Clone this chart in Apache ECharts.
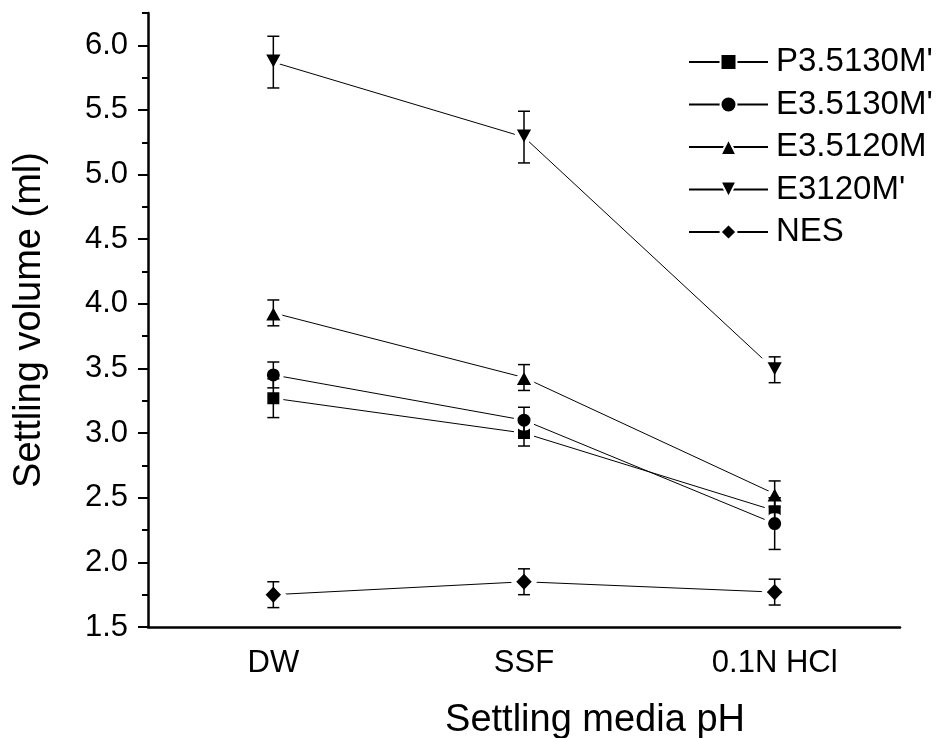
<!DOCTYPE html>
<html><head><meta charset="utf-8">
<script src="https://cdn.jsdelivr.net/npm/echarts@6/dist/echarts.min.js"></script>
<style>html,body{margin:0;padding:0;background:#fff}#c{width:950px;height:738px}</style>
</head><body><div id="c"></div>
<script>
const categories = ['DW', 'SSF', '0.1N HCl'];
const seriesNames = ["P3.5130M'", "E3.5130M'", "E3.5120M", "E3120M'", "NES"];
const p35130mValues = [3.27, 3.00, 2.40];
const p35130mErrors = [0.15, 0.10, 0.10];
const e35130mValues = [3.45, 3.10, 2.30];
const e35130mErrors = [0.10, 0.10, 0.20];
const e35120mValues = [3.93, 3.43, 2.53];
const e35120mErrors = [0.10, 0.10, 0.10];
const e3120mValues = [5.87, 5.29, 3.49];
const e3120mErrors = [0.20, 0.20, 0.10];
const nesValues = [1.75, 1.85, 1.77];
const nesErrors = [0.10, 0.10, 0.10];
const yTicks = [1.5, 2.0, 2.5, 3.0, 3.5, 4.0, 4.5, 5.0, 5.5, 6.0];
const yMinorTicks = [1.75, 2.25, 2.75, 3.25, 3.75, 4.25, 4.75, 5.25, 5.75, 6.25];

const FONT = 'Liberation Sans, Arial, sans-serif';
const valuesList = [p35130mValues, e35130mValues, e35120mValues, e3120mValues, nesValues];
const errorsList = [p35130mErrors, e35130mErrors, e35120mErrors, e3120mErrors, nesErrors];
const symbols = ['rect', 'circle', 'triangle', 'triangle', 'diamond'];
const rotations = [0, 0, 0, 180, 0];
const sizes = [[16, 16], [17, 17], [21, 19], [21, 19], [21, 22]];
const BW = 4;

const series = [];
seriesNames.forEach((name, i) => {
  series.push({
    type: 'line', name: name,
    data: valuesList[i],
    symbol: symbols[i], symbolRotate: rotations[i], symbolSize: sizes[i],
    showAllSymbol: true,
    lineStyle: { color: '#000', width: 1 },
    itemStyle: { color: '#000', borderColor: '#fff', borderWidth: BW },
    emphasis: { disabled: true },
    z: 2
  });
});
errorsList.forEach((errs, i) => {
  series.push({
    type: 'custom',
    data: categories.map((c, j) => [j, valuesList[i][j], errs[j]]),
    renderItem: (params, api) => {
      const x = api.value(0), y = api.value(1), e = api.value(2);
      const hi = api.coord([x, y + e]);
      const lo = api.coord([x, y - e]);
      const cw = 6;
      const st = { stroke: '#000', lineWidth: 1.5 };
      return { type: 'group', children: [
        { type: 'line', shape: { x1: hi[0], y1: hi[1], x2: lo[0], y2: lo[1] }, style: st },
        { type: 'line', shape: { x1: hi[0] - cw, y1: hi[1], x2: hi[0] + cw, y2: hi[1] }, style: st },
        { type: 'line', shape: { x1: lo[0] - cw, y1: lo[1], x2: lo[0] + cw, y2: lo[1] }, style: st }
      ]};
    },
    z: 3, silent: true
  });
});

const chart = echarts.init(document.getElementById('c'), null, { renderer: 'canvas' });
chart.setOption({
  animation: false,
  backgroundColor: '#fff',
  textStyle: { fontFamily: FONT },
  grid: { left: 148, right: 50, top: 13, bottom: 111, containLabel: false, outerBoundsMode: 'none' },
  legend: {
    data: seriesNames, orient: 'vertical', left: 683, top: 40,
    itemWidth: 79, itemHeight: 20, itemGap: 8.5,
    textStyle: { fontSize: 33, lineHeight: 34, color: '#000', fontFamily: FONT, padding: [0, 0, 0, 3] },
    selectedMode: false
  },
  xAxis: [{
    type: 'category', data: categories, boundaryGap: true, position: 'bottom',
    axisLine: { lineStyle: { color: '#000', width: 2.5 } },
    axisTick: { alignWithLabel: true, length: 10, lineStyle: { color: '#000', width: 2 } },
    axisLabel: { fontSize: 31, color: '#000', margin: 21, fontFamily: FONT },
    splitLine: { show: false },
    name: 'Settling media pH', nameLocation: 'middle', nameGap: 75,
    nameTextStyle: { fontSize: 38, color: '#000', fontFamily: FONT, padding: [0, 0, 0, 142] }
  }, {
    type: 'category', data: categories, boundaryGap: true, position: 'bottom',
    axisLine: { show: false },
    axisTick: { alignWithLabel: false, length: 6, lineStyle: { color: '#000', width: 2 } },
    axisLabel: { show: false }, splitLine: { show: false }
  }],
  yAxis: [{
    type: 'value', min: 1.5, max: 6.25, position: 'left',
    axisLine: { show: true, lineStyle: { color: '#000', width: 2.5 } },
    axisTick: { show: true, customValues: yTicks, length: 10, lineStyle: { color: '#000', width: 2 } },
    axisLabel: { customValues: yTicks, formatter: v => Number(v).toFixed(1), fontSize: 31, color: '#000', margin: 20, fontFamily: FONT },
    splitLine: { show: false },
    name: 'Settling volume (ml)', nameLocation: 'middle', nameGap: 99, nameRotate: 90,
    nameTextStyle: { fontSize: 38, color: '#000', fontFamily: FONT }
  }, {
    type: 'value', min: 1.5, max: 6.25, position: 'left',
    axisLine: { show: false },
    axisTick: { show: true, customValues: yMinorTicks, length: 6, lineStyle: { color: '#000', width: 2 } },
    axisLabel: { show: false }, splitLine: { show: false }
  }],
  series: series
});
</script>
</body></html>
